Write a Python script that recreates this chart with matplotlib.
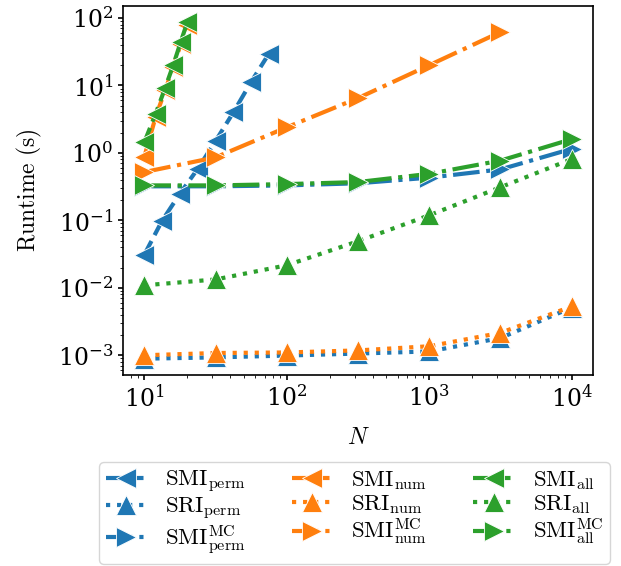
import matplotlib
matplotlib.use('Agg')
import matplotlib.pyplot as plt

# LaTeX-like look without needing latex
plt.rcParams['mathtext.fontset'] = 'cm'
plt.rcParams['font.family'] = 'serif'
plt.rcParams['font.serif'] = ['DejaVu Serif']

FS = 17

# --- DATA ---
N_half = [10, 31.62, 100, 316.2, 1000, 3162, 10000]

N_perm = [10, 13.3, 17.8, 23.7, 31.6, 42.2, 56.2, 75.0]
smi_perm = [0.031, 0.098, 0.25, 0.58, 1.5, 4.0, 11.3, 29.7]
sri_perm = [0.00089, 0.00093, 0.00099, 0.00106, 0.00114, 0.0018, 0.0051]
smi_mc_perm = [0.32, 0.32, 0.33, 0.355, 0.43, 0.57, 1.15]

N_num = [10, 12, 14, 16, 18, 20]
smi_num = [0.88, 3.4, 8.5, 19, 41, 80]
sri_num = [0.00100, 0.00108, 0.0011, 0.00118, 0.00136, 0.00215, 0.0053]
N_mc_num = [10, 31.62, 100, 316.2, 1000, 3162]
smi_mc_num = [0.52, 0.86, 2.4, 6.5, 20, 62]

N_all = [10, 12, 14, 16, 18, 20]
smi_all = [1.44, 3.8, 9.2, 20.4, 44, 86]
sri_all = [0.0109, 0.0133, 0.0216, 0.049, 0.119, 0.31, 0.81]
smi_mc_all = [0.33, 0.33, 0.345, 0.37, 0.49, 0.77, 1.6]

style = dict(linewidth=3, markersize=14.5, markeredgecolor='white', markeredgewidth=0.6)

fig = plt.figure(figsize=(6.21, 5.66), dpi=100)
ax = fig.add_axes([0.198, 0.3366, 0.757, 0.6534])

# perm (blue)
ax.plot(N_perm, smi_perm, '<--', color='C0', label=r'$\mathrm{SMI}_{\mathrm{perm}}$', **style)
ax.plot(N_half, sri_perm, '^:', color='C0', label=r'$\mathrm{SRI}_{\mathrm{perm}}$', **style)
ax.plot(N_half, smi_mc_perm, '>-.', color='C0', label=r'$\mathrm{SMI}^{\mathrm{MC}}_{\mathrm{perm}}$', **style)

# num (orange)
ax.plot(N_num, smi_num, '<--', color='C1', label=r'$\mathrm{SMI}_{\mathrm{num}}$', **style)
ax.plot(N_half, sri_num, '^:', color='C1', label=r'$\mathrm{SRI}_{\mathrm{num}}$', **style)
ax.plot(N_mc_num, smi_mc_num, '>-.', color='C1', label=r'$\mathrm{SMI}^{\mathrm{MC}}_{\mathrm{num}}$', **style)

# all (green)
ax.plot(N_all, smi_all, '<--', color='C2', label=r'$\mathrm{SMI}_{\mathrm{all}}$', **style)
ax.plot(N_half, sri_all, '^:', color='C2', label=r'$\mathrm{SRI}_{\mathrm{all}}$', **style)
ax.plot(N_half, smi_mc_all, '>-.', color='C2', label=r'$\mathrm{SMI}^{\mathrm{MC}}_{\mathrm{all}}$', **style)

ax.set_xscale('log')
ax.set_yscale('log')
ax.set_xlabel(r'$N$', fontsize=FS, labelpad=10)
ax.set_ylabel(r'$\mathrm{Runtime\ (s)}$', fontsize=FS, labelpad=10)
ax.tick_params(labelsize=FS, width=1.2)
for sp in ax.spines.values():
    sp.set_linewidth(1.2)

# legend box sits below the axes, top-left corner at about (99, 462) px
fig.legend(loc='upper left', bbox_to_anchor=(99 / 621, 1 - 462 / 566), ncol=3,
           fontsize=16.5, borderaxespad=0, handlelength=1.8, labelspacing=0.05,
           borderpad=0.3)

fig.savefig('out.png', dpi=100)
